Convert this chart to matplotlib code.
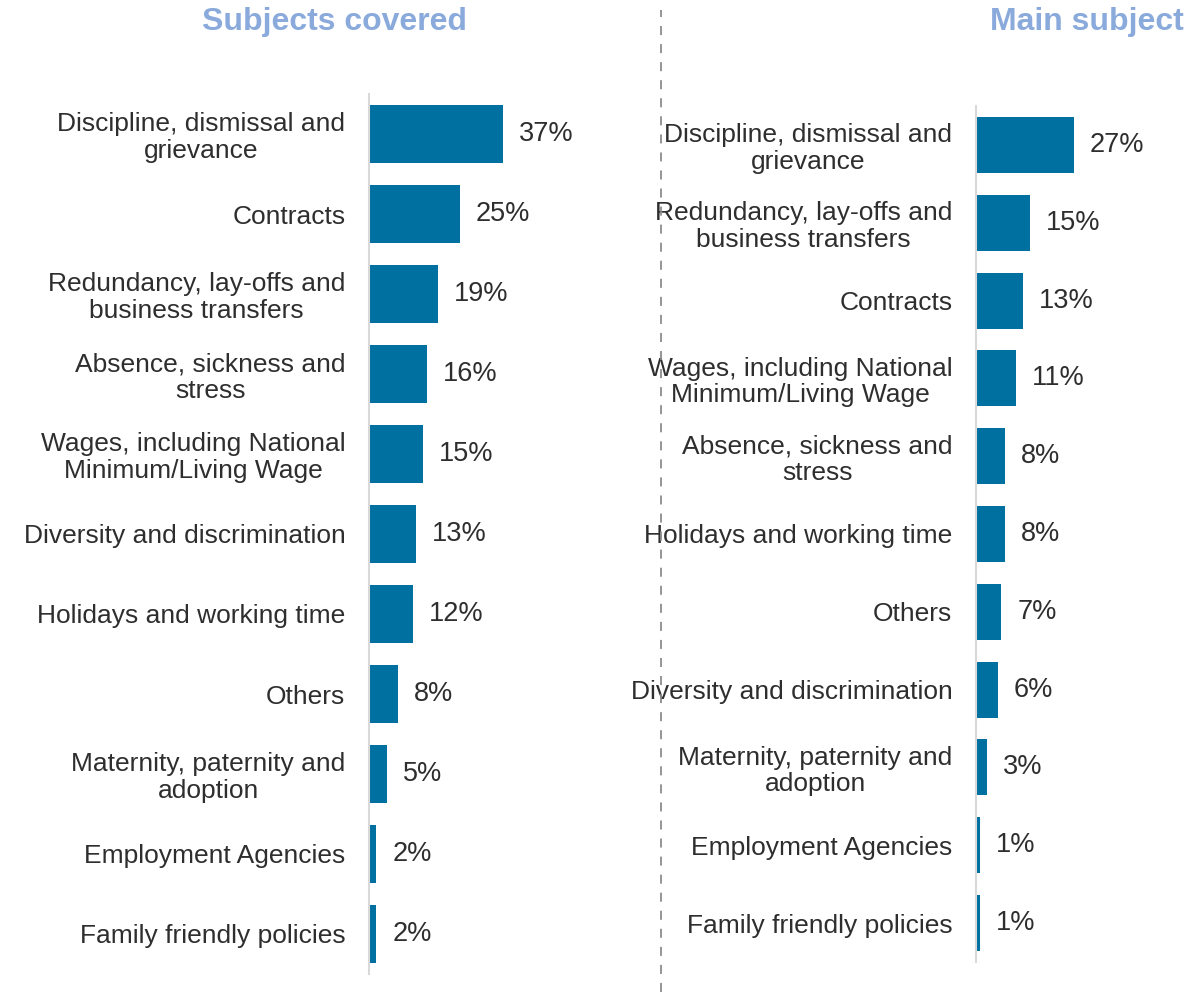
import matplotlib.pyplot as plt
from matplotlib.lines import Line2D
import numpy as np

plt.rcParams['font.family'] = ['Liberation Sans', 'DejaVu Sans']

# subjects covered by the claims (share of all claims)
covered_labels = [
    "Discipline, dismissal and\ngrievance",
    "Contracts",
    "Redundancy, lay-offs and\nbusiness transfers",
    "Absence, sickness and\nstress",
    "Wages, including National\nMinimum/Living Wage",
    "Diversity and discrimination",
    "Holidays and working time",
    "Others",
    "Maternity, paternity and\nadoption",
    "Employment Agencies",
    "Family friendly policies",
]
covered_values = [37, 25, 19, 16, 15, 13, 12, 8, 5, 2, 2]

# main subject of the claim
main_labels = [
    "Discipline, dismissal and\ngrievance",
    "Redundancy, lay-offs and\nbusiness transfers",
    "Contracts",
    "Wages, including National\nMinimum/Living Wage",
    "Absence, sickness and\nstress",
    "Holidays and working time",
    "Others",
    "Diversity and discrimination",
    "Maternity, paternity and\nadoption",
    "Employment Agencies",
    "Family friendly policies",
]
main_values = [27, 15, 13, 11, 8, 8, 7, 6, 3, 1, 1]

bar_color = "#0070a0"
text_color = "#2e2e2e"
title_color = "#8aaadc"
W, H = 1192, 992

fig = plt.figure(figsize=(W / 100, H / 100), dpi=100)


def panel(rect, labels, values):
    ax = fig.add_axes(rect)
    y = np.arange(len(values))
    bars = ax.barh(y, values, height=0.72, color=bar_color)
    ax.bar_label(bars, labels=[f"{v}%" for v in values], padding=11.5,
                 fontsize=19.5, color=text_color)
    ax.set_ylim(len(values) - 0.5, -0.5)
    ax.set_xlim(0, 40)
    ax.set_yticks(y)
    ax.set_yticklabels(labels, fontsize=19, color=text_color,
                       multialignment="center", linespacing=1.12)
    ax.tick_params(axis="y", length=0, pad=17)
    ax.set_xticks([])
    for s in ["top", "right", "bottom"]:
        ax.spines[s].set_visible(False)
    ax.spines["left"].set_color("#d9d9d9")
    ax.spines["left"].set_linewidth(1.5)
    return ax


panel([369 / W, 1 - 974 / H, 145 / W, 880 / H], covered_labels, covered_values)
panel([976 / W, 1 - 962 / H, 145 / W, 856 / H], main_labels, main_values)

fig.text(334 / W, 1 - 22 / H, "Subjects covered", ha="center", va="center",
         fontsize=23, fontweight="bold", color=title_color)
fig.text(1184 / W, 1 - 22 / H, "Main subject", ha="right", va="center",
         fontsize=23, fontweight="bold", color=title_color)

# dashed divider between the two panels
fig.add_artist(Line2D([661 / W, 661 / W], [0, 1 - 10 / H], transform=fig.transFigure,
                      color="#8c8c8c", linewidth=1.3, linestyle=(0, (5, 5))))

fig.savefig("out.png", dpi=100)
